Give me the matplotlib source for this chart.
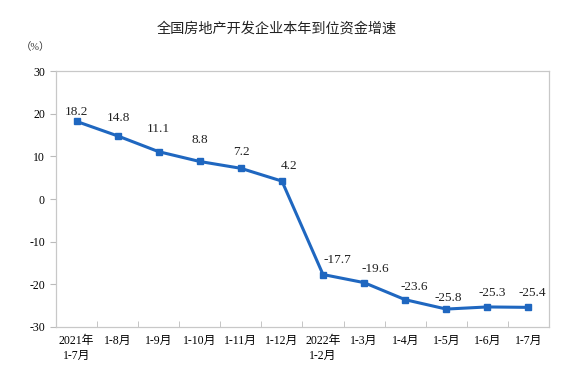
import matplotlib.pyplot as plt
import numpy as np

plt.rcParams['font.family'] = ['Liberation Serif', 'Noto Sans CJK SC']

categories = ['2021年\n1-7月', '1-8月', '1-9月', '1-10月', '1-11月', '1-12月',
              '2022年\n1-2月', '1-3月', '1-4月', '1-5月', '1-6月', '1-7月']
values = [18.2, 14.8, 11.1, 8.8, 7.2, 4.2, -17.7, -19.6, -23.6, -25.8, -25.3, -25.4]
yticks = [-30, -20, -10, 0, 10, 20, 30]

# label offsets in pixels (dx, dy), as placed in the original
label_dx = [0, 1, 0, 0, 1, 7, 14, 11, 9, 2, 5, 4]
label_dy = [9, 18, 23, 21, 16, 15, 15, 14, 13, 11, 14, 14]

fig = plt.figure(figsize=(5.87, 3.80), dpi=100)
ax = fig.add_axes([0.0954, 0.1395, 0.8398, 0.6735])

x = np.arange(len(values))
ax.plot(x, values, color='#1f67c0', linewidth=2.2, marker='s', markersize=4.5)

for xi, v, dx, dy in zip(x, values, label_dx, label_dy):
    ax.annotate(f'{v}', (xi, v), xytext=(dx, dy), textcoords='offset pixels',
                ha='center', va='center', fontsize=9.5, color='#222222')

ax.set_xlim(-0.5, len(values) - 0.5)
ax.set_ylim(-30, 30)
ax.set_yticks(yticks)
ax.set_yticklabels([str(t) for t in yticks], fontsize=8.5)
ax.set_xticks(x)
ax.set_xticklabels(categories, fontsize=8.5, linespacing=1.3)
ax.set_xticks(np.arange(len(values) + 1) - 0.5, minor=True)
ax.tick_params(axis='x', which='major', length=0, pad=6)
ax.tick_params(axis='x', which='minor', direction='in', length=4, color='#bbbbbb')
ax.tick_params(axis='y', direction='out', length=4, color='#bbbbbb', pad=4)

for s in ax.spines.values():
    s.set_color('#c8c8c8')
    s.set_linewidth(0.9)

fig.text(0.472, 0.924, '全国房地产开发企业本年到位资金增速', ha='center', va='center',
         fontsize=10.2, color='#222222')
fig.text(0.06, 0.876, '（%）', ha='center', va='center', fontsize=7.5, color='#333333')

fig.savefig('out.png', dpi=100)
